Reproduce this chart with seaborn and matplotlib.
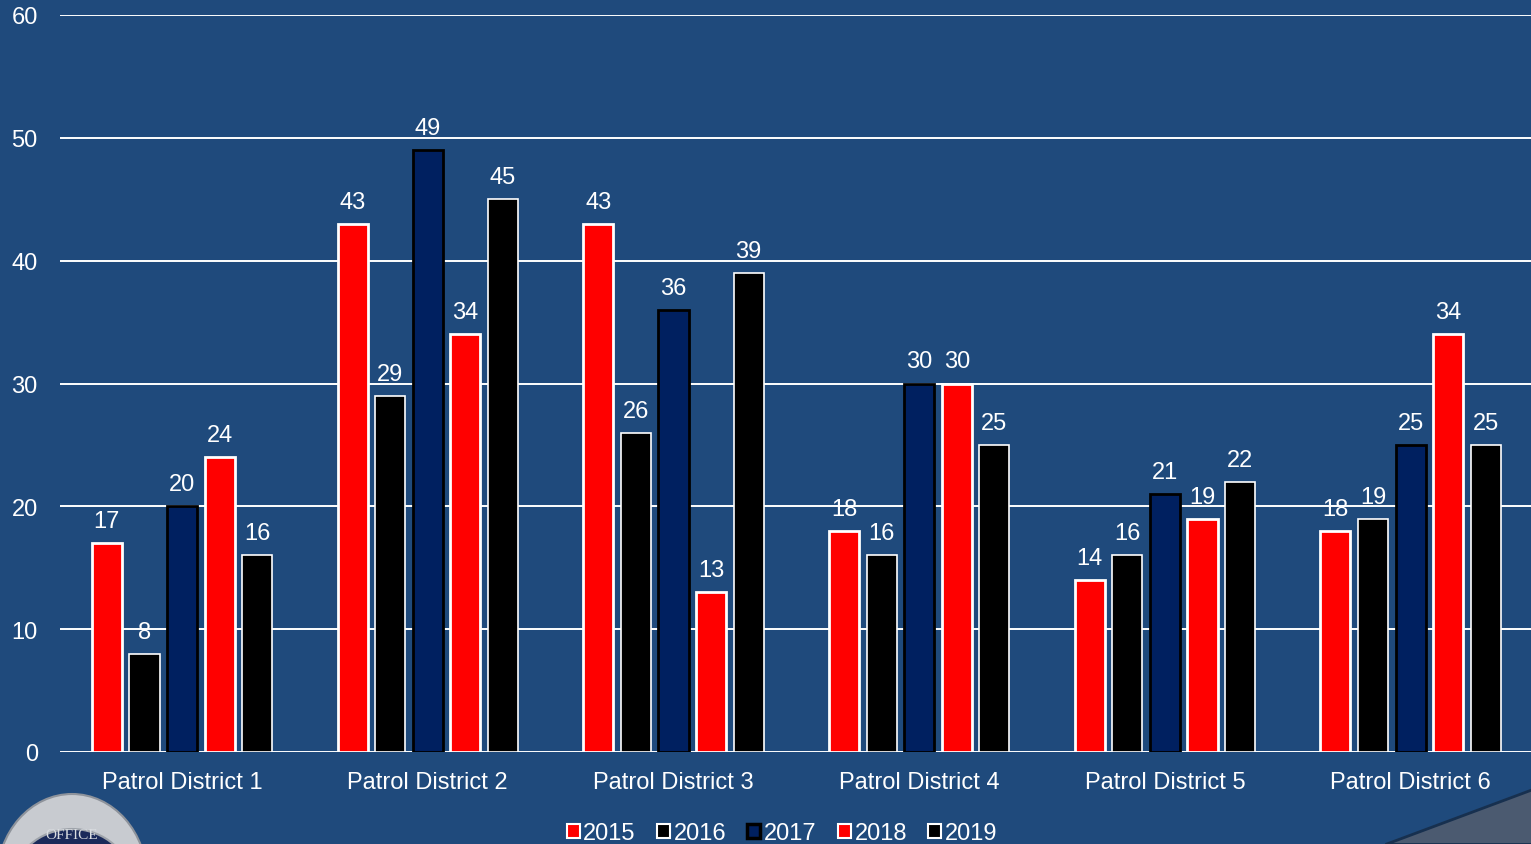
import matplotlib
matplotlib.use("Agg")
import matplotlib.pyplot as plt
import matplotlib.patches as mpatches
import seaborn as sns
import pandas as pd

# Patrol district counts per year
districts = ["Patrol District 1", "Patrol District 2", "Patrol District 3",
             "Patrol District 4", "Patrol District 5", "Patrol District 6"]
years = ["2015", "2016", "2017", "2018", "2019"]
v2015 = [17, 43, 43, 18, 14, 18]
v2016 = [8, 29, 26, 16, 16, 19]
v2017 = [20, 49, 36, 30, 21, 25]
v2018 = [24, 34, 13, 30, 19, 34]
v2019 = [16, 45, 39, 25, 22, 25]
yticks = [0, 10, 20, 30, 40, 50, 60]

series = [v2015, v2016, v2017, v2018, v2019]
rows = []
for yr, vals in zip(years, series):
    for d, v in zip(districts, vals):
        rows.append({"district": d, "year": yr, "count": v})
df = pd.DataFrame(rows)

BG = "#1F4A7C"
fills = ["#FF0000", "#000000", "#002060", "#FF0000", "#000000"]
edges = ["white", "white", "black", "white", "white"]
edge_w = [2.0, 1.2, 2.0, 2.0, 1.2]
FS = 17

sns.set_style("white")
plt.rcParams["font.family"] = ["Liberation Sans", "DejaVu Sans"]

W, H = 1531, 845
fig = plt.figure(figsize=(W / 100, H / 100), dpi=100, facecolor=BG)
ax = fig.add_axes([60 / W, 92 / H, 1 - 60 / W, (753 - 16) / H])
ax.set_facecolor(BG)

sns.barplot(data=df, x="district", y="count", hue="year", order=districts,
            hue_order=years, palette=fills, width=0.765, gap=0.2,
            saturation=1, ax=ax, legend=False, zorder=3)

for cont, ec, lw in zip(ax.containers, edges, edge_w):
    for bar in cont:
        bar.set_edgecolor(ec)
        bar.set_linewidth(lw)
    ax.bar_label(cont, labels=[str(int(round(b.get_height()))) for b in cont],
                 padding=8, color="white", fontsize=FS)

ax.set_ylim(0, 60)
ax.set_xlim(-0.497, 5.49)
ax.set_yticks(yticks)
ax.set_yticklabels([str(t) for t in yticks])
ax.yaxis.grid(True, color="white", linewidth=1.4, zorder=0)
ax.set_axisbelow(True)
ax.tick_params(axis="y", length=0, pad=16, labelsize=FS, colors="white")
ax.tick_params(axis="x", length=0, pad=14, labelsize=FS, colors="white")
ax.set_xlabel("")
ax.set_ylabel("")
for s in ax.spines.values():
    s.set_visible(False)

# Legend with small square keys
handles = [mpatches.Patch(facecolor=f, edgecolor=e, linewidth=1.5 if e == "white" else 2.5)
           for f, e in zip(fills, edges)]
leg = fig.legend(handles, years, loc="center", bbox_to_anchor=(782 / W, 1 - 834 / H),
                 ncol=5, frameon=False, fontsize=FS, handlelength=0.55,
                 handleheight=0.55, handletextpad=0.15, columnspacing=0.9,
                 borderaxespad=0)
for t in leg.get_texts():
    t.set_color("white")

# Badge emblem in the lower-left corner
badge = mpatches.Ellipse((72 / W, (845 - 880) / H), 150 / W, 170 / H,
                         transform=fig.transFigure, facecolor="#C8CBD0",
                         edgecolor="#8E939B", linewidth=1.5, zorder=5)
fig.patches.append(badge)
band = mpatches.Ellipse((72 / W, (845 - 885) / H), 120 / W, 110 / H,
                        transform=fig.transFigure, facecolor="#1B2A5A",
                        edgecolor="#9EA3AA", linewidth=1.5, zorder=6)
fig.patches.append(band)
fig.text(72 / W, (845 - 842) / H, "OFFICE", color="#D9DCE0", fontsize=11,
         ha="center", va="bottom", family="Liberation Serif", zorder=7)

# Grey corner triangle in the lower-right
tri = mpatches.Polygon([(1385 / W, 0), (1 + 0.01, 0), (1 + 0.01, (845 - 785) / H)],
                       closed=True, transform=fig.transFigure,
                       facecolor="#4B5A70", edgecolor="#17304F", linewidth=2, zorder=5)
fig.patches.append(tri)

fig.savefig("out.png", dpi=100, facecolor=BG)
